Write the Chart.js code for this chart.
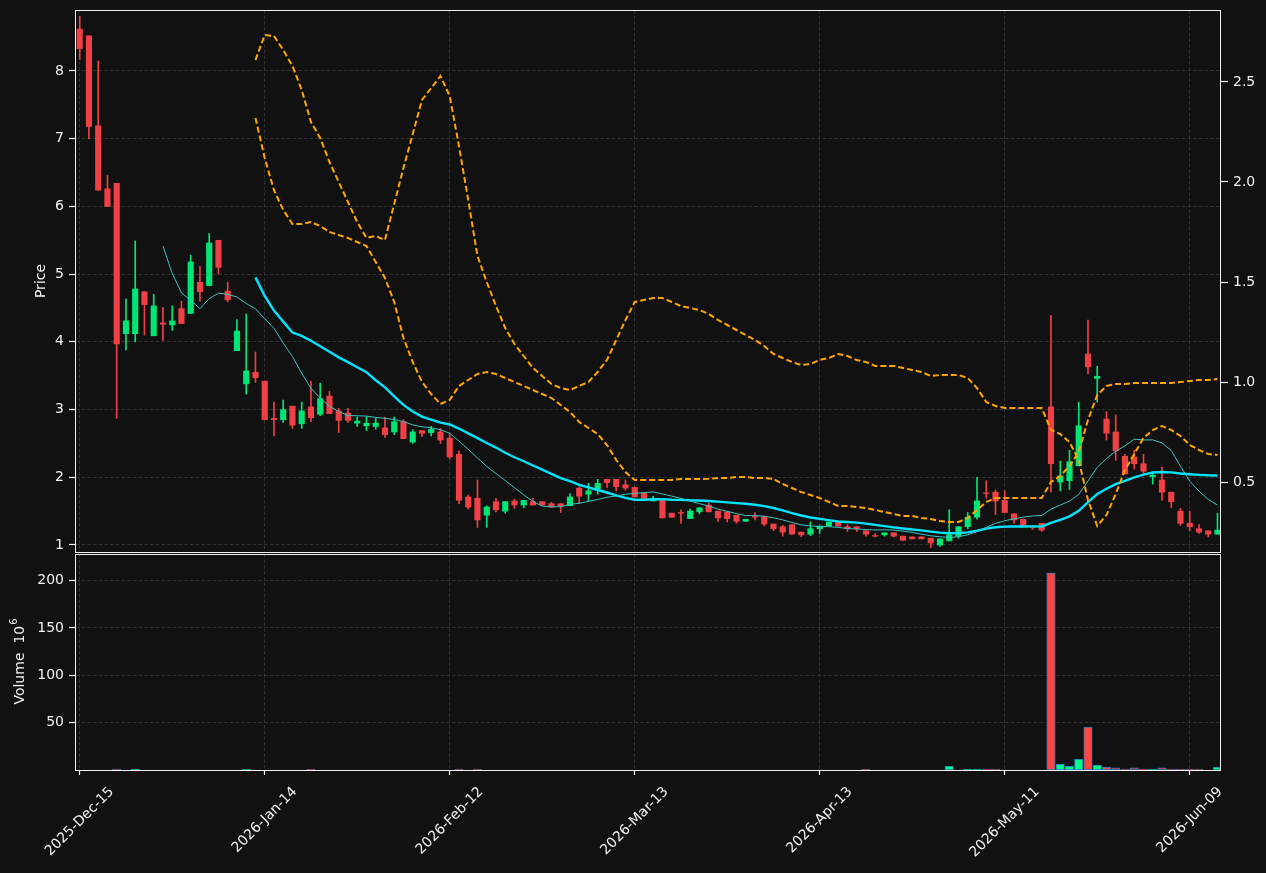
<!DOCTYPE html>
<html>
<head>
<meta charset="utf-8">
<script src="https://cdn.jsdelivr.net/npm/chart.js@4.4.1/dist/chart.umd.min.js"></script>
<style>
  html, body { margin: 0; padding: 0; background: #111111; }
  #wrap { position: relative; width: 1266px; height: 873px; overflow: hidden; background: #111111; }
  #priceChart { position: absolute; left: 0; top: 0; }
  #volChart { position: absolute; left: 0; top: 553px; }
</style>
</head>
<body>
<div id="wrap">
  <canvas id="priceChart" width="1266" height="553"></canvas>
  <canvas id="volChart" width="1266" height="320"></canvas>
</div>
<script>
// x axis labels (one every 20 sessions)
const tickIdx = [0, 20, 40, 60, 80, 100, 120];
const tickLabels = ['2025-Dec-15', '2026-Jan-14', '2026-Feb-12', '2026-Mar-13', '2026-Apr-13', '2026-May-11', '2026-Jun-09'];
const priceTicks = [1, 2, 3, 4, 5, 6, 7, 8];
const rightTicks = [0.5, 1.0, 1.5, 2.0, 2.5];
const volTicks = [50, 100, 150, 200];

// daily OHLC
const opens = [8.62,8.52,7.19,6.26,6.34,4.12,4.12,4.74,4.09,4.28,
  4.25,4.49,4.42,4.88,4.83,5.50,4.75,3.87,3.38,3.55,
  3.42,2.87,2.85,3.05,2.79,3.04,2.93,3.20,2.98,2.95,
  2.80,2.76,2.75,2.73,2.67,2.82,2.52,2.69,2.66,2.67,
  2.58,2.34,1.71,1.69,1.44,1.64,1.50,1.65,1.59,1.64,
  1.64,1.61,1.61,1.58,1.84,1.75,1.83,1.97,1.97,1.89,
  1.85,1.77,1.65,1.67,1.47,1.48,1.39,1.49,1.59,1.50,
  1.49,1.44,1.35,1.42,1.42,1.31,1.27,1.30,1.19,1.16,
  1.24,1.28,1.34,1.27,1.27,1.21,1.14,1.15,1.18,1.13,
  1.12,1.12,1.10,1.00,1.06,1.13,1.27,1.41,1.77,1.78,
  1.66,1.46,1.38,1.28,1.32,3.04,1.93,1.95,2.17,3.82,
  3.46,2.86,2.67,2.31,2.30,2.20,2.01,1.96,1.78,1.50,
  1.32,1.24,1.21,1.16];
const highs = [8.81,8.52,8.15,6.46,6.34,4.63,5.49,4.74,4.70,4.51,
  4.53,4.60,5.28,5.11,5.60,5.50,4.88,4.33,4.41,3.85,
  3.42,3.11,3.14,3.05,3.11,3.42,3.39,3.27,3.02,3.02,
  2.89,2.90,2.87,2.89,2.89,2.85,2.70,2.69,2.75,2.72,
  2.65,2.39,1.74,1.96,1.58,1.69,1.64,1.68,1.66,1.69,
  1.64,1.63,1.61,1.76,1.86,1.91,1.97,1.97,1.97,1.96,
  1.86,1.77,1.72,1.67,1.47,1.52,1.53,1.55,1.62,1.50,
  1.49,1.44,1.38,1.48,1.42,1.31,1.29,1.30,1.19,1.34,
  1.28,1.34,1.34,1.30,1.27,1.21,1.17,1.18,1.18,1.13,
  1.12,1.12,1.10,1.09,1.52,1.27,1.48,2.00,1.95,1.81,
  1.80,1.46,1.38,1.28,1.32,4.39,2.24,2.40,3.11,4.32,
  3.64,2.97,2.92,2.34,2.40,2.34,2.08,2.15,1.78,1.54,
  1.50,1.30,1.21,1.47];
const lows = [8.17,7.00,6.24,6.00,2.87,3.88,4.00,4.10,4.09,4.02,
  4.17,4.27,4.42,4.60,4.83,5.00,4.59,3.87,3.23,3.40,
  2.85,2.61,2.81,2.72,2.72,2.82,2.91,2.94,2.66,2.81,
  2.75,2.69,2.71,2.59,2.63,2.57,2.50,2.60,2.61,2.50,
  2.27,1.61,1.53,1.26,1.26,1.49,1.47,1.54,1.55,1.59,
  1.59,1.56,1.48,1.58,1.61,1.65,1.75,1.85,1.80,1.81,
  1.71,1.69,1.65,1.40,1.41,1.32,1.39,1.46,1.49,1.35,
  1.34,1.32,1.35,1.37,1.28,1.21,1.13,1.16,1.12,1.14,
  1.17,1.28,1.28,1.20,1.20,1.13,1.12,1.13,1.12,1.07,
  1.09,1.09,0.96,0.98,1.06,1.10,1.24,1.38,1.69,1.45,
  1.48,1.32,1.29,1.23,1.20,1.78,1.80,1.82,2.17,3.53,
  3.11,2.55,2.25,2.05,2.12,2.06,1.90,1.66,1.55,1.29,
  1.21,1.17,1.12,1.16];
const closes = [8.33,7.18,6.24,6.00,3.97,4.31,4.78,4.55,4.53,4.26,
  4.31,4.27,5.18,4.74,5.46,5.10,4.62,4.16,3.57,3.47,
  2.85,2.85,3.00,2.77,2.98,2.88,3.16,2.94,2.84,2.84,
  2.83,2.80,2.80,2.63,2.82,2.57,2.67,2.65,2.71,2.55,
  2.30,1.66,1.56,1.37,1.56,1.52,1.64,1.59,1.66,1.59,
  1.59,1.56,1.58,1.71,1.72,1.80,1.91,1.92,1.86,1.84,
  1.71,1.69,1.68,1.40,1.41,1.47,1.50,1.55,1.49,1.40,
  1.39,1.35,1.38,1.41,1.31,1.24,1.19,1.16,1.15,1.24,
  1.28,1.34,1.28,1.24,1.24,1.16,1.13,1.18,1.13,1.07,
  1.09,1.09,1.03,1.09,1.15,1.27,1.41,1.65,1.76,1.65,
  1.48,1.37,1.29,1.26,1.22,2.20,2.02,2.23,2.76,3.63,
  3.49,2.65,2.39,2.05,2.20,2.09,2.03,1.78,1.64,1.32,
  1.27,1.19,1.16,1.22];

// volume, millions
const volumes = [0,0,0,0,1,0,1,0,0,0,
  0,0,0,0,0,0,0,0,1,0,
  0,0,0,0,0,1,0,0,0,0,
  0,0,0,0,0,0,0,0,0,0,
  0,1,0,1,0,0,0,0,0,0,
  0,0,0,0,0,0,0,0,0,0,
  0,0,0,0,0,0,0,0,0,0,
  0,0,0,0,0,0,0,0,0,0,
  0,0,0,0,0,1,0,0,0,0,
  0,0,0,0,4.2,0,1,1,1,1,
  0,0,0,0,0,208,6.3,4.2,11.6,45.4,
  5.3,3.2,2.2,1,2.2,1,1,2.2,1,1,
  1,1,0,3.2];

// moving averages (10 and 20 sessions)
const ma10Start = 9;
const ma10 = [5.415,5.013,4.722,4.616,4.490,4.639,4.718,4.702,4.663,4.567,
  4.488,4.342,4.200,3.982,3.785,3.537,3.315,3.169,3.047,2.974,
  2.911,2.909,2.904,2.884,2.870,2.854,2.823,2.774,2.745,2.732,
  2.703,2.650,2.536,2.412,2.286,2.160,2.055,1.952,1.846,1.741,
  1.645,1.574,1.564,1.566,1.600,1.616,1.644,1.671,1.704,1.724,
  1.749,1.761,1.774,1.784,1.753,1.722,1.689,1.648,1.611,1.574,
  1.530,1.498,1.464,1.434,1.435,1.425,1.402,1.371,1.332,1.298,
  1.282,1.271,1.270,1.260,1.243,1.236,1.228,1.222,1.224,1.222,
  1.205,1.186,1.161,1.136,1.121,1.112,1.123,1.151,1.198,1.261,
  1.319,1.358,1.386,1.412,1.429,1.436,1.529,1.590,1.648,1.748,
  1.946,2.147,2.275,2.385,2.464,2.562,2.551,2.552,2.507,2.395,
  2.164,1.942,1.796,1.673,1.590];
const ma20Start = 19;
const ma20 = [4.952,4.678,4.461,4.299,4.138,4.088,4.017,3.936,3.855,3.771,
  3.700,3.626,3.552,3.433,3.328,3.196,3.069,2.972,2.896,2.853,
  2.807,2.780,2.720,2.648,2.578,2.507,2.439,2.363,2.296,2.237,
  2.174,2.112,2.050,1.989,1.943,1.888,1.850,1.812,1.775,1.733,
  1.697,1.668,1.669,1.675,1.677,1.669,1.667,1.660,1.658,1.649,
  1.640,1.630,1.619,1.609,1.594,1.574,1.546,1.510,1.472,1.436,
  1.406,1.385,1.367,1.347,1.339,1.331,1.315,1.297,1.278,1.260,
  1.244,1.229,1.216,1.198,1.182,1.174,1.176,1.187,1.211,1.242,
  1.262,1.272,1.274,1.274,1.275,1.274,1.326,1.371,1.423,1.505,
  1.633,1.753,1.831,1.899,1.947,1.999,2.040,2.071,2.078,2.072,
  2.055,2.045,2.036,2.029,2.027];

// dashed lines on the right axis
const dashStart = 19;
const dashA = [2.61,2.735,2.73,2.66,2.58,2.46,2.30,2.22,2.10,2.00,
  1.90,1.80,1.72,1.73,1.71,1.89,2.07,2.24,2.41,2.47,
  2.53,2.43,2.18,1.91,1.63,1.50,1.38,1.27,1.19,1.13,
  1.07,1.03,0.99,0.97,0.96,0.98,1.00,1.05,1.11,1.21,
  1.31,1.40,1.41,1.42,1.42,1.40,1.38,1.37,1.36,1.34,
  1.31,1.285,1.26,1.235,1.21,1.18,1.14,1.12,1.10,1.085,
  1.09,1.11,1.12,1.14,1.13,1.11,1.10,1.08,1.08,1.08,
  1.07,1.06,1.05,1.03,1.035,1.035,1.035,1.02,0.97,0.90,
  0.88,0.87,0.87,0.87,0.87,0.87,0.76,0.74,0.70,0.61,
  0.41,0.28,0.335,0.44,0.56,0.64,0.72,0.76,0.78,0.76,
  0.73,0.685,0.66,0.64,0.635];
const dashB = [2.32,2.12,1.96,1.86,1.79,1.79,1.80,1.78,1.75,1.735,
  1.72,1.70,1.68,1.60,1.52,1.40,1.22,1.10,1.00,0.94,
  0.89,0.91,0.98,1.01,1.04,1.05,1.04,1.02,1.00,0.98,
  0.96,0.94,0.92,0.885,0.85,0.80,0.77,0.74,0.685,0.61,
  0.55,0.51,0.51,0.51,0.51,0.51,0.515,0.515,0.515,0.516,
  0.52,0.52,0.525,0.525,0.52,0.52,0.515,0.49,0.47,0.45,
  0.435,0.42,0.40,0.38,0.38,0.375,0.37,0.36,0.35,0.34,
  0.33,0.33,0.32,0.315,0.305,0.30,0.30,0.32,0.36,0.40,
  0.42,0.42,0.42,0.42,0.42,0.42,0.50,0.53,0.58,0.65,
  0.81,0.935,0.98,0.99,0.99,0.995,0.995,0.995,0.995,0.995,
  1.00,1.005,1.01,1.01,1.015];

// style
const textColor = '#f2f2f2';
const gridColor = '#3a3a3a';
const frameColor = '#f0f0f0';
const upColor = '#00e676';
const downColor = '#ef4046';
const volUp = '#00ff88';
const volDown = '#ff4444';
const fontSpec = '14px "DejaVu Sans", sans-serif';

Chart.defaults.font.family = '"DejaVu Sans", sans-serif';
Chart.defaults.font.size = 14;
Chart.defaults.color = textColor;
Chart.defaults.animation = false;

const isUp = closes.map((c, i) => c >= opens[i]);
const series = (arr, start) => arr.map((v, k) => ({ x: start + k, y: v }));

// frame around the plot area, snapped to whole pixels
const framePlugin = {
    id: 'frame',
    afterDraw(chart) {
        const a = chart.chartArea;
        const ctx = chart.ctx;
        ctx.save();
        ctx.strokeStyle = frameColor;
        ctx.lineWidth = 1;
        ctx.strokeRect(Math.round(a.left) - 0.5, Math.round(a.top) + 0.5,
            Math.round(a.right - a.left), Math.round(a.bottom - a.top));
        ctx.restore();
    }
};

// rotated y-axis title, with optional superscript
function yTitlePlugin(text, sup, cx, cy) {
    return {
        id: 'yTitle',
        afterDraw(chart) {
            const ctx = chart.ctx;
            ctx.save();
            ctx.fillStyle = textColor;
            ctx.textBaseline = 'middle';
            ctx.textAlign = 'left';
            ctx.font = fontSpec;
            const w = ctx.measureText(text).width;
            ctx.font = '10px "DejaVu Sans", sans-serif';
            const ws = sup ? ctx.measureText(sup).width : 0;
            ctx.translate(cx, cy);
            ctx.rotate(-Math.PI / 2);
            const x0 = -(w + ws) / 2;
            ctx.font = fontSpec;
            ctx.fillText(text, x0, 0);
            if (sup) {
                ctx.font = '10px "DejaVu Sans", sans-serif';
                ctx.fillText(sup, x0 + w + 1, -6);
            }
            ctx.restore();
        }
    };
}

// date labels at 45 degrees, centred under each tick
const xLabelPlugin = {
    id: 'xLabels',
    afterDraw(chart) {
        const ctx = chart.ctx;
        const xs = chart.scales.x;
        const top = chart.chartArea.bottom + 14;
        ctx.save();
        ctx.font = fontSpec;
        ctx.fillStyle = textColor;
        ctx.textAlign = 'center';
        ctx.textBaseline = 'middle';
        tickIdx.forEach((v, k) => {
            const label = tickLabels[k];
            const w = ctx.measureText(label).width;
            const half = (w + 16) * Math.SQRT1_2 / 2;
            ctx.save();
            ctx.translate(xs.getPixelForValue(v), top + half);
            ctx.rotate(-Math.PI / 4);
            ctx.fillText(label, 0, 0);
            ctx.restore();
        });
        ctx.restore();
    }
};

const xMin = -0.4;
const xMax = 123.38;

// keep the plot box fixed: no extra room for edge labels
function fixWidth(w) {
    return s => {
        s.width = w;
        s.paddingTop = 0;
        s.paddingBottom = 0;
    };
}

function xScale(tickLen) {
    return {
        type: 'linear',
        min: xMin,
        max: xMax,
        offset: false,
        afterBuildTicks: s => { s.ticks = tickIdx.map(v => ({ value: v })); },
        ticks: { display: false },
        grid: {
            color: gridColor, lineWidth: 0.8, offset: false,
            drawTicks: tickLen > 0, tickLength: tickLen, tickColor: frameColor, tickWidth: 1.2
        },
        border: { display: false, dash: [3.5, 2.2] },
        afterFit: s => {
            s.height = tickLen;
            s.paddingLeft = 0;
            s.paddingRight = 0;
        }
    };
}

// price panel
new Chart(document.getElementById('priceChart'), {
    type: 'bar',
    data: {
        datasets: [
            {
                type: 'line', data: series(dashA, dashStart), yAxisID: 'y2',
                borderColor: '#ffa500', borderWidth: 2, borderDash: [6, 3],
                pointRadius: 0, tension: 0, fill: false, order: 0
            },
            {
                type: 'line', data: series(dashB, dashStart), yAxisID: 'y2',
                borderColor: '#ffa500', borderWidth: 2, borderDash: [6, 3],
                pointRadius: 0, tension: 0, fill: false, order: 0
            },
            {
                type: 'line', data: series(ma10, ma10Start), yAxisID: 'y',
                borderColor: '#3cc4c4', borderWidth: 1, pointRadius: 0, tension: 0, fill: false, order: 1
            },
            {
                type: 'line', data: series(ma20, ma20Start), yAxisID: 'y',
                borderColor: '#00e5ff', borderWidth: 2.4, pointRadius: 0, tension: 0, fill: false, order: 1
            },
            {
                data: opens.map((o, i) => ({ x: i, y: [o, closes[i]] })), yAxisID: 'y',
                backgroundColor: isUp.map(u => u ? upColor : downColor),
                barThickness: 5.5, grouped: false, borderWidth: 0, order: 2
            },
            {
                data: lows.map((l, i) => ({ x: i, y: [l, highs[i]] })), yAxisID: 'y',
                backgroundColor: isUp.map(u => u ? upColor : downColor),
                barThickness: 1, grouped: false, borderWidth: 0, order: 3
            }
        ]
    },
    options: {
        responsive: false,
        animation: false,
        layout: { padding: { top: 10, bottom: 1, left: 0, right: 0 } },
        plugins: { legend: { display: false }, tooltip: { enabled: false } },
        scales: {
            x: xScale(0),
            y: {
                type: 'linear', position: 'left', min: 0.8966, max: 8.9008, beginAtZero: false,
                afterBuildTicks: s => { s.ticks = priceTicks.map(v => ({ value: v })); },
                ticks: { color: textColor, padding: 5, callback: v => String(v) },
                grid: { color: gridColor, lineWidth: 0.8, tickLength: 7, tickColor: frameColor, tickWidth: 1.2 },
                border: { display: false, dash: [3.5, 2.2] },
                afterFit: fixWidth(76)
            },
            y2: {
                type: 'linear', position: 'right', min: 0.15, max: 2.86, beginAtZero: false,
                afterBuildTicks: s => { s.ticks = rightTicks.map(v => ({ value: v })); },
                ticks: { color: textColor, padding: 5, callback: v => v.toFixed(1) },
                grid: { drawOnChartArea: false, tickLength: 7, tickColor: frameColor, tickWidth: 1.2 },
                border: { display: false },
                afterFit: fixWidth(45)
            }
        }
    },
    plugins: [framePlugin, yTitlePlugin('Price', '', 41, 281)]
});

// volume panel
new Chart(document.getElementById('volChart'), {
    type: 'bar',
    data: {
        datasets: [{
            data: volumes.map((v, i) => ({ x: i, y: v })),
            backgroundColor: isUp.map(u => u ? volUp : volDown),
            borderColor: '#1f77b4',
            borderWidth: 1,
            borderSkipped: false,
            barThickness: 8.5,
            grouped: false
        }]
    },
    options: {
        responsive: false,
        animation: false,
        layout: { padding: { top: 1, bottom: 98, left: 0, right: 45 } },
        plugins: { legend: { display: false }, tooltip: { enabled: false } },
        scales: {
            x: xScale(5),
            y: {
                type: 'linear', position: 'left', min: 0, max: 228, beginAtZero: false,
                afterBuildTicks: s => { s.ticks = volTicks.map(v => ({ value: v })); },
                ticks: { color: textColor, padding: 5, callback: v => String(v) },
                grid: { color: gridColor, lineWidth: 0.8, tickLength: 7, tickColor: frameColor, tickWidth: 1.2 },
                border: { display: false, dash: [3.5, 2.2] },
                afterFit: fixWidth(76)
            }
        }
    },
    plugins: [framePlugin, xLabelPlugin, yTitlePlugin('Volume  10', '6', 20, 109)]
});
</script>
</body>
</html>
